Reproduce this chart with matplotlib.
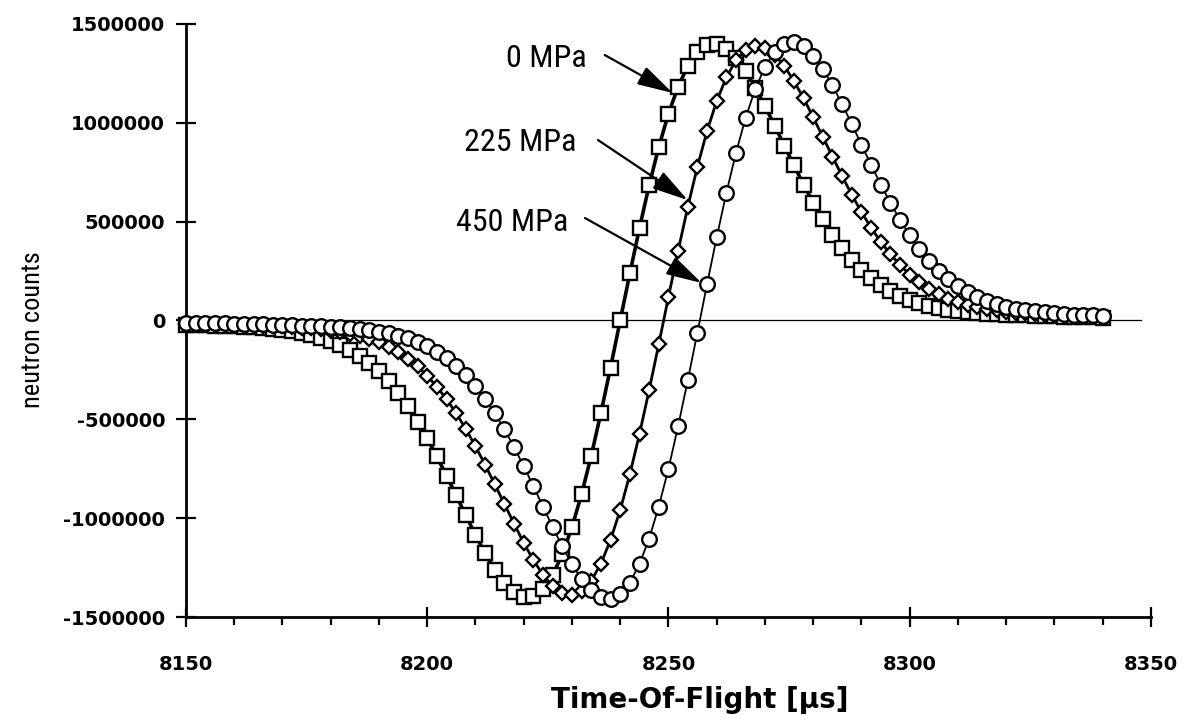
import matplotlib
matplotlib.use("Agg")
import matplotlib.pyplot as plt
from matplotlib import font_manager
from matplotlib.ticker import MultipleLocator, FuncFormatter

# time-of-flight channels [us]
tof_us = [8150, 8152, 8154, 8156, 8158, 8160, 8162, 8164, 8166, 8168,
          8170, 8172, 8174, 8176, 8178, 8180, 8182, 8184, 8186, 8188,
          8190, 8192, 8194, 8196, 8198, 8200, 8202, 8204, 8206, 8208,
          8210, 8212, 8214, 8216, 8218, 8220, 8222, 8224, 8226, 8228,
          8230, 8232, 8234, 8236, 8238, 8240, 8242, 8244, 8246, 8248,
          8250, 8252, 8254, 8256, 8258, 8260, 8262, 8264, 8266, 8268,
          8270, 8272, 8274, 8276, 8278, 8280, 8282, 8284, 8286, 8288,
          8290, 8292, 8294, 8296, 8298, 8300, 8302, 8304, 8306, 8308,
          8310, 8312, 8314, 8316, 8318, 8320, 8322, 8324, 8326, 8328,
          8330, 8332, 8334, 8336, 8338, 8340]

# neutron counts, in thousands
counts_0mpa = [-21, -22, -23, -26, -27, -29, -32, -34, -39, -42,
               -48, -54, -63, -73, -87, -102, -123, -148, -178, -214,
               -257, -308, -367, -435, -512, -596, -688, -785, -885, -986,
               -1085, -1178, -1260, -1328, -1374, -1398, -1394, -1357, -1287, -1183,
               -1046, -878, -684, -468, -238, 0, 238, 468, 684, 878,
               1046, 1183, 1287, 1357, 1394, 1398, 1374, 1328, 1260, 1178,
               1085, 986, 885, 785, 688, 596, 512, 435, 367, 308,
               257, 214, 178, 148, 123, 102, 87, 73, 63, 54,
               48, 42, 39, 34, 32, 29, 27, 26, 23, 22,
               21, 20, 19, 17, 16, 15]

counts_225mpa = [-16, -17, -18, -19, -20, -21, -23, -25, -26, -27,
                 -30, -33, -36, -40, -45, -51, -58, -68, -79, -93,
                 -111, -133, -161, -194, -232, -280, -335, -398, -469, -549,
                 -636, -730, -829, -928, -1028, -1125, -1212, -1287, -1345, -1380,
                 -1390, -1370, -1317, -1230, -1110, -959, -778, -574, -352, -119,
                 119, 352, 574, 778, 959, 1110, 1230, 1317, 1370, 1390,
                 1380, 1345, 1287, 1212, 1125, 1028, 928, 829, 730, 636,
                 549, 469, 398, 335, 280, 232, 194, 161, 133, 111,
                 93, 79, 68, 58, 51, 45, 40, 36, 33, 30,
                 27, 26, 25, 23, 21, 20]

counts_450mpa = [-12, -13, -14, -15, -15, -16, -17, -19, -20, -21,
                 -22, -24, -26, -27, -29, -32, -35, -39, -44, -49,
                 -56, -65, -76, -90, -108, -130, -157, -190, -230, -276,
                 -332, -396, -469, -551, -641, -737, -838, -942, -1045, -1143,
                 -1233, -1309, -1365, -1401, -1409, -1385, -1326, -1232, -1103, -941,
                 -750, -535, -303, -61, 183, 421, 645, 849, 1026, 1172,
                 1283, 1360, 1401, 1409, 1387, 1340, 1273, 1189, 1094, 994,
                 889, 787, 688, 595, 509, 431, 362, 303, 252, 209,
                 173, 143, 119, 99, 83, 70, 60, 52, 46, 41,
                 37, 33, 30, 28, 26, 25]

pressure_labels = ['0 MPa', '225 MPa', '450 MPa']

installed = {f.name for f in font_manager.fontManager.ttflist}
narrow = 'DejaVu Sans'
for name in ['Roboto Condensed', 'DejaVu Sans Condensed', 'Liberation Sans Narrow']:
    if name in installed:
        narrow = name
        break
note_size = 23 if narrow != 'DejaVu Sans' else 19

plt.rcParams['axes.unicode_minus'] = False

fig = plt.figure(figsize=(11.83, 7.27), dpi=100)
ax = fig.add_axes([0.1572, 0.1513, 0.8157, 0.8157])

ax.axhline(0, xmax=0.99, color='black', lw=0.9, zorder=1)

series = [
    (counts_0mpa, 's', 9.5, 2.6),
    (counts_225mpa, 'D', 7.0, 2.0),
    (counts_450mpa, 'o', 10.5, 1.3),
]
for vals, marker, ms, lw in series:
    ax.plot(tof_us, [v * 1000 for v in vals], '-', color='black', lw=lw,
            marker=marker, ms=ms, mfc='white', mec='black', mew=1.7,
            clip_on=False, zorder=3)

ax.set_xlim(8150, 8350)
ax.set_ylim(-1500000, 1500000)
ax.set_xticks([8150, 8200, 8250, 8300, 8350])
ax.xaxis.set_minor_locator(MultipleLocator(10))
ax.set_yticks([-1500000, -1000000, -500000, 0, 500000, 1000000, 1500000])
ax.yaxis.set_major_formatter(FuncFormatter(lambda v, p: f"{int(round(v))}"))

for side in ['top', 'right']:
    ax.spines[side].set_visible(False)
for side in ['left', 'bottom']:
    ax.spines[side].set_linewidth(2.0)

ax.tick_params(axis='x', which='major', direction='inout', length=14, width=1.6, pad=20)
ax.tick_params(axis='x', which='minor', direction='out', length=5.5, width=1.6)
ax.tick_params(axis='y', which='major', direction='inout', length=14, width=1.6, pad=8)
for lab in ax.get_xticklabels() + ax.get_yticklabels():
    lab.set_fontfamily('DejaVu Sans')
    lab.set_fontweight('bold')
    lab.set_fontsize(14)

fig.text(700 / 1183, 1 - 700 / 727, 'Time-Of-Flight [µs]', ha='center', va='center',
         fontsize=20, fontweight='bold', family='DejaVu Sans')
fig.text(33 / 1183, 1 - 330 / 727, 'neutron counts', rotation=90, ha='center', va='center',
         fontsize=19, family=narrow)

# pressure labels with arrows
text_pos = [(8233.1, 1327700), (8231.0, 902900), (8229.2, 498200)]
arrow_from = [(8236.8, 1343000), (8235.4, 912900), (8232.7, 518400)]
arrow_to = [(8250.9, 1150700), (8254.0, 609000), (8256.9, 189700)]
for lab, tp, a0, a1 in zip(pressure_labels, text_pos, arrow_from, arrow_to):
    ax.text(tp[0], tp[1], lab, ha='right', va='center', fontsize=note_size, family=narrow, zorder=5)
    ax.annotate('', xy=a1, xytext=a0,
                arrowprops=dict(arrowstyle='-|>,head_length=1.1,head_width=0.3',
                                color='black', lw=1.6, mutation_scale=20,
                                shrinkA=0, shrinkB=0),
                zorder=5)

fig.savefig('out.png', dpi=100)
